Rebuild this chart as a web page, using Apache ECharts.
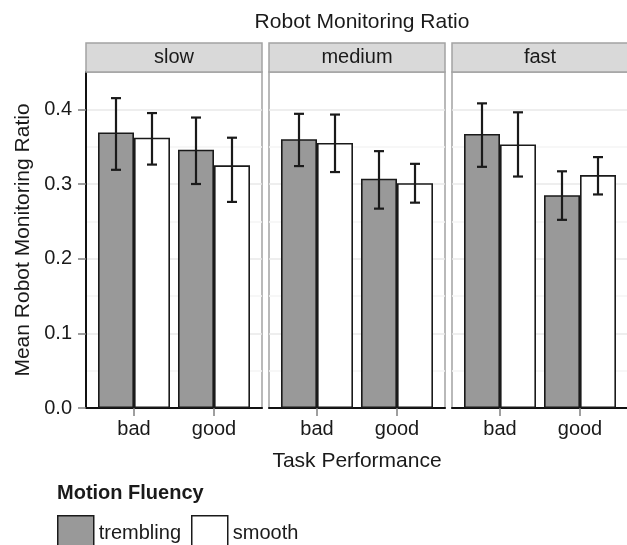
<!DOCTYPE html>
<html><head><meta charset="utf-8">
<script src="https://cdn.jsdelivr.net/npm/echarts@6/dist/echarts.min.js"></script>
<style>html,body{margin:0;padding:0;background:#fff}#c{width:627px;height:545px}</style>
</head><body><div id="c"></div>
<script>
// ---------- data ----------
const chartTitle = 'Robot Monitoring Ratio';
const xTitle = 'Task Performance';
const yTitle = 'Mean Robot Monitoring Ratio';
const legendTitle = 'Motion Fluency';
const speeds = ['slow', 'medium', 'fast'];
const categories = ['bad', 'good'];
const fluencies = ['trembling', 'smooth'];
// per panel (slow, medium, fast): [bad, good]
const tremblingMean = [[0.369, 0.346], [0.360, 0.307], [0.367, 0.285]];
const smoothMean    = [[0.362, 0.325], [0.355, 0.301], [0.353, 0.312]];
const tremblingLow  = [[0.319, 0.300], [0.324, 0.267], [0.323, 0.252]];
const tremblingHigh = [[0.415, 0.389], [0.394, 0.344], [0.408, 0.317]];
const smoothLow     = [[0.326, 0.276], [0.316, 0.275], [0.310, 0.286]];
const smoothHigh    = [[0.395, 0.362], [0.393, 0.327], [0.396, 0.336]];
const yTickValues = [0, 0.1, 0.2, 0.3, 0.4];

// ---------- layout / style ----------
const FONT = '"Liberation Sans", Arial, Helvetica, sans-serif';
const TXT = '#1a1a1a';
const panelLeft = [86, 269, 452];
const panelW = 176, panelTop = 72, panelH = 336, stripH = 29;
const xMin = 0.4, xMax = 2.6, yMin = 0, yMax = 0.45;
const dodge = 0.9, nGroups = fluencies.length;
const barUnits = dodge / nGroups;
const barPx = panelW / (xMax - xMin) * barUnits;
const capHalf = 0.0625;
const fills = { trembling: '#999999', smooth: '#ffffff' };

const chart = echarts.init(document.getElementById('c'), null, { renderer: 'canvas' });

const grids = [], xAxes = [], yAxes = [], series = [];
speeds.forEach((sp, i) => {
  grids.push({ left: panelLeft[i], top: panelTop, width: panelW, height: panelH,
    show: true, borderColor: '#a3a3a3', borderWidth: 1.5, backgroundColor: '#fff',
    containLabel: false, outerBoundsMode: 'none' });
  xAxes.push({
    type: 'value', gridIndex: i, min: xMin, max: xMax,
    name: i === 1 ? xTitle : '', nameLocation: 'middle', nameGap: 43,
    nameTextStyle: { fontSize: 21, fontFamily: FONT, color: TXT },
    axisLine: { show: true, onZero: false, lineStyle: { color: '#111', width: 2 } },
    axisTick: { show: true, customValues: [1, 2], length: 8, lineStyle: { color: '#808080', width: 1.5 } },
    axisLabel: { show: true, customValues: [1, 2], margin: 11, fontSize: 20, fontFamily: FONT, color: TXT,
      formatter: v => categories[Math.round(v) - 1] || '' },
    splitLine: { show: false }
  });
  yAxes.push({
    type: 'value', gridIndex: i, min: yMin, max: yMax, interval: 0.1,
    name: i === 0 ? yTitle : '', nameLocation: 'middle', nameGap: 52,
    nameTextStyle: { fontSize: 21, fontFamily: FONT, color: TXT },
    axisLine: { show: i === 0, lineStyle: { color: '#111', width: 2 } },
    axisTick: { show: i === 0, customValues: yTickValues, length: 8, lineStyle: { color: '#808080', width: 1.5 } },
    axisLabel: { show: i === 0, customValues: yTickValues, margin: 14, fontSize: 20, fontFamily: FONT, color: TXT,
      formatter: v => v.toFixed(1) },
    splitLine: { show: true, lineStyle: { color: '#e8e8e8', width: 1.5 } },
    minorTick: { show: false, splitNumber: 2 },
    minorSplitLine: { show: true, lineStyle: { color: '#f5f5f5', width: 1.5 } }
  });
  const means = [tremblingMean[i], smoothMean[i]];
  const lows = [tremblingLow[i], smoothLow[i]];
  const highs = [tremblingHigh[i], smoothHigh[i]];
  fluencies.forEach((fl, k) => {
    series.push({
      type: 'bar', name: fl, xAxisIndex: i, yAxisIndex: i,
      barWidth: barPx, barGap: '0%',
      data: categories.map((c, j) => [j + 1, means[k][j]]),
      itemStyle: { color: fills[fl], borderColor: '#1a1a1a', borderWidth: 1.6 },
      emphasis: { disabled: true }, z: 2, silent: true
    });
  });
  const errData = [];
  fluencies.forEach((fl, k) => {
    categories.forEach((c, j) => {
      const x = j + 1 + (k - (nGroups - 1) / 2) * barUnits;
      errData.push([x, lows[k][j], highs[k][j]]);
    });
  });
  series.push({
    type: 'custom', name: 'err' + i, xAxisIndex: i, yAxisIndex: i, z: 5, silent: true,
    encode: { x: 0, y: [1, 2] },
    data: errData,
    renderItem: (params, api) => {
      const x = api.value(0), lo = api.value(1), hi = api.value(2);
      const a = api.coord([x, lo]), b = api.coord([x, hi]);
      const tl = api.coord([x - capHalf, hi]), tr = api.coord([x + capHalf, hi]);
      const bl = api.coord([x - capHalf, lo]), br = api.coord([x + capHalf, lo]);
      const st = { stroke: '#1a1a1a', lineWidth: 2.2 };
      return { type: 'group', children: [
        { type: 'line', shape: { x1: a[0], y1: a[1], x2: b[0], y2: b[1] }, style: st },
        { type: 'line', shape: { x1: tl[0], y1: tl[1], x2: tr[0], y2: tr[1] }, style: st },
        { type: 'line', shape: { x1: bl[0], y1: bl[1], x2: br[0], y2: br[1] }, style: st }
      ]};
    }
  });
});

const graphics = [];
speeds.forEach((sp, i) => {
  graphics.push({ type: 'rect', z: 10,
    shape: { x: panelLeft[i], y: panelTop - stripH, width: panelW, height: stripH },
    style: { fill: '#d9d9d9', stroke: '#a3a3a3', lineWidth: 1.5 } });
  graphics.push({ type: 'text', z: 11,
    style: { text: sp, x: panelLeft[i] + panelW / 2, y: panelTop - stripH / 2,
      align: 'center', verticalAlign: 'middle', textAlign: 'center', textVerticalAlign: 'middle',
      fontSize: 20, fontFamily: FONT, fill: TXT } });
});
graphics.push({ type: 'text', style: { text: chartTitle, x: 362, y: 22,
  align: 'center', verticalAlign: 'middle', textAlign: 'center', textVerticalAlign: 'middle',
  fontSize: 21, fontFamily: FONT, fill: TXT } });
graphics.push({ type: 'text', style: { text: legendTitle, x: 57, y: 493,
  align: 'left', verticalAlign: 'middle', textAlign: 'left', textVerticalAlign: 'middle',
  fontSize: 20, fontWeight: 'bold', fontFamily: FONT, fill: TXT } });

chart.setOption({
  animation: false,
  backgroundColor: '#ffffff',
  grid: grids, xAxis: xAxes, yAxis: yAxes, series: series,
  graphic: graphics,
  legend: {
    left: 57, top: 515, itemWidth: 36, itemHeight: 36, itemGap: 10, selectedMode: false, padding: 0,
    textStyle: { fontSize: 20, fontFamily: FONT, color: TXT },
    data: fluencies.map(fl => ({ name: fl, icon: 'rect',
      itemStyle: { color: fills[fl], borderColor: '#1a1a1a', borderWidth: 1.5 } }))
  }
});
</script></body></html>
